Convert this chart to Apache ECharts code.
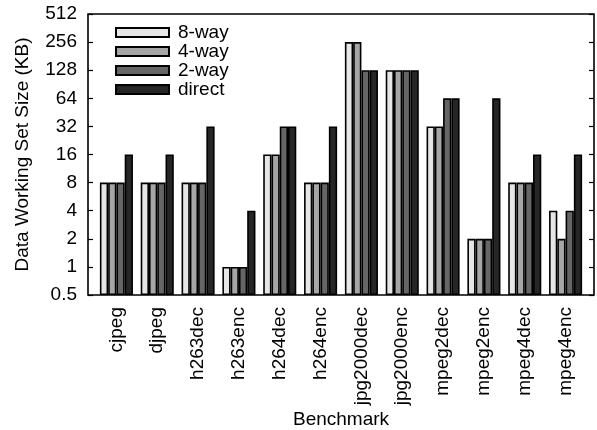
<!DOCTYPE html>
<html>
<head>
<meta charset="utf-8">
<script src="https://cdn.jsdelivr.net/npm/echarts@6/dist/echarts.min.js"></script>
<style>
  html, body { margin: 0; padding: 0; background: #fff; }
  #chart { width: 597px; height: 430px; }
</style>
</head>
<body>
<div id="chart"></div>
<script>
// benchmarks on the x axis
const benchmarks = ['cjpeg', 'djpeg', 'h263dec', 'h263enc', 'h264dec', 'h264enc',
  'jpg2000dec', 'jpg2000enc', 'mpeg2dec', 'mpeg2enc', 'mpeg4dec', 'mpeg4enc']

// working set size in KB per associativity
const way8 = [8, 8, 8, 1, 16, 8, 256, 128, 32, 2, 8, 4]
const way4 = [8, 8, 8, 1, 16, 8, 256, 128, 32, 2, 8, 2]
const way2 = [8, 8, 8, 1, 32, 8, 128, 128, 64, 2, 8, 4]
const direct = [16, 16, 32, 4, 32, 32, 128, 128, 64, 64, 16, 16]

const seriesNames = ['8-way', '4-way', '2-way', 'direct']
const seriesColors = ['#e6e6e6', '#a6a6a6', '#666666', '#262626']

const yMin = 0.5
const yMax = 512

const font = 'Liberation Sans, Arial, sans-serif'
const fs = 19
const chart = echarts.init(document.getElementById('chart'))

const bar = (name, data, i) => ({
  name: name,
  type: 'bar',
  xAxisIndex: 1,
  yAxisIndex: 2,
  data: data,
  barGap: '0%',
  barCategoryGap: '19%',
  itemStyle: { color: seriesColors[i], borderColor: '#000', borderWidth: 1.6 },
  emphasis: { disabled: true }
})

const option = {
  animation: false,
  textStyle: { fontFamily: font, color: '#000' },
  grid: [
    // frame
    { left: 88, right: 3, top: 14, bottom: 135, show: true, borderColor: '#000', borderWidth: 1.6,
      containLabel: false, outerBoundsMode: 'none' },
    // bars (inset so the first/last groups sit away from the frame)
    { left: 96, right: 11, top: 14, bottom: 135, containLabel: false, outerBoundsMode: 'none' }
  ],
  legend: {
    orient: 'vertical',
    left: 110,
    top: 18,
    itemWidth: 53,
    itemHeight: 9,
    itemGap: 0,
    icon: 'rect',
    selectedMode: false,
    textStyle: { fontFamily: font, fontSize: fs, lineHeight: 19, color: '#000', padding: [0, 0, 0, 4] },
    data: seriesNames
  },
  xAxis: [
    {
      gridIndex: 0, type: 'value', min: 0, max: 1,
      axisLine: { show: false }, axisTick: { show: false },
      axisLabel: { show: false }, splitLine: { show: false },
      name: 'Benchmark', nameLocation: 'middle', nameGap: 115,
      nameTextStyle: { fontFamily: font, fontSize: fs, color: '#000' }
    },
    {
      gridIndex: 1, type: 'category', data: benchmarks,
      axisLine: { show: false }, axisTick: { show: false },
      axisLabel: { rotate: 90, margin: 12, fontFamily: font, fontSize: fs, color: '#000' },
      splitLine: { show: false }
    }
  ],
  yAxis: [
    {
      gridIndex: 0, type: 'log', logBase: 2, min: yMin, max: yMax, interval: 1,
      axisLine: { show: false },
      axisTick: { show: true, inside: true, length: 5, lineStyle: { color: '#000', width: 1.2 } },
      axisLabel: { margin: 11, fontFamily: font, fontSize: fs, color: '#000' },
      splitLine: { show: false },
      name: 'Data Working Set Size (KB)', nameLocation: 'middle', nameGap: 56,
      nameTextStyle: { fontFamily: font, fontSize: fs, color: '#000' }
    },
    {
      gridIndex: 0, type: 'log', logBase: 2, min: yMin, max: yMax, interval: 1, position: 'right',
      axisLine: { show: false },
      axisTick: { show: true, inside: true, length: 5, lineStyle: { color: '#000', width: 1.2 } },
      axisLabel: { show: false }, splitLine: { show: false }
    },
    {
      gridIndex: 1, type: 'log', logBase: 2, min: yMin, max: yMax, startValue: yMin,
      axisLine: { show: false }, axisTick: { show: false },
      axisLabel: { show: false }, splitLine: { show: false }
    }
  ],
  series: [
    bar(seriesNames[0], way8, 0),
    bar(seriesNames[1], way4, 1),
    bar(seriesNames[2], way2, 2),
    bar(seriesNames[3], direct, 3)
  ]
}

chart.setOption(option)
</script>
</body>
</html>
